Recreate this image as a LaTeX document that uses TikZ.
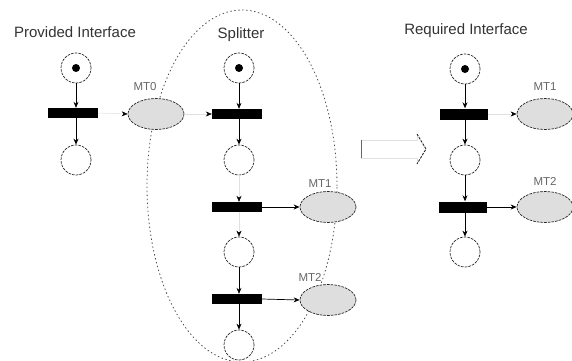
\documentclass[tikz,border=0pt]{standalone}
\usepackage{fontspec}
\setmainfont{Liberation Sans}
\usetikzlibrary{shapes.geometric,arrows.meta}
\begin{document}
\begin{tikzpicture}[x=1pt,y=-1pt,
  place/.style={circle,draw=black!85,line width=0.7pt,dash pattern=on 2.6pt off 1.1pt,minimum size=30pt,inner sep=0pt},
  trans/.style={rectangle,fill=black,draw=none,minimum width=50pt,minimum height=10pt,inner sep=0pt},
  msg/.style={ellipse,fill=black!13,draw=black!85,line width=0.7pt,dash pattern=on 2.6pt off 1.1pt,minimum width=56pt,minimum height=31pt,inner sep=0pt},
  token/.style={circle,fill=black,minimum size=8pt,inner sep=0pt},
  title/.style={font=\fontsize{15}{17}\selectfont,text=black!80,inner sep=0pt},
  mlabel/.style={font=\fontsize{11.5}{13}\selectfont,text=black!60,inner sep=0pt},
  arc/.style={line width=0.7pt,draw=black,-{Stealth[length=6pt,width=5pt,color=black]}},
  faint/.style={line width=0.5pt,draw=black!12,-{Stealth[length=6pt,width=5pt,color=black]}},
  group/.style={draw=black!70,line width=0.8pt,dash pattern=on 1.4pt off 2.6pt}
]
\useasboundingbox (0,0) rectangle (572,360);

% big dotted ellipse (splitter group)
\draw[group] (242,186) ellipse [x radius=95pt, y radius=176pt];

% titles
\node[title] (t1) at (75,32) {Provided Interface};
\node[title] (t2) at (241,35) {Splitter};
\node[title] (t3) at (466,31) {Required Interface};

% provided interface
\node[place] (lp1) at (76,68) {};
\node[token] (lk1) at (lp1) {};
\node[trans] (lb1) at (73,113) {};
\node[place] (lp2) at (76,160) {};
\node[msg] (mt0) at (156,114) {};
\node[mlabel] (lmt0) at (145,87) {MT0};

% splitter
\node[place] (sp1) at (239,68) {};
\node[token] (sk1) at (sp1) {};
\node[trans] (sb1) at (237,114) {};
\node[place] (sp2) at (239,160) {};
\node[trans] (sb2) at (237,207) {};
\node[place] (sp3) at (239,252) {};
\node[trans] (sb3) at (237,299) {};
\node[place] (sp4) at (239,345) {};
\node[msg] (smt1) at (328,207) {};
\node[msg] (smt2) at (328,300) {};
\node[mlabel] (lsmt1) at (320,184) {MT1};
\node[mlabel] (lsmt2) at (310,277) {MT2};

% required interface
\node[place] (rp1) at (465,69) {};
\node[token] (rk1) at (rp1) {};
\node[trans,minimum width=48pt,minimum height=11pt] (rb1) at (464,114) {};
\node[place] (rp2) at (465,160) {};
\node[trans,minimum width=48pt,minimum height=11pt] (rb2) at (463,207) {};
\node[place] (rp3) at (465,252) {};
\node[msg] (rmt1) at (545,114) {};
\node[msg] (rmt2) at (545,207) {};
\node[mlabel] (lrmt1) at (545,87) {MT1};
\node[mlabel] (lrmt2) at (545,181) {MT2};

% arcs: provided
\draw[arc] (lp1.south) -- (lp1.south |- lb1.north);
\draw[arc] (lp2.north |- lb1.south) -- (lp2.north);
\draw[faint] (lb1.east) -- (mt0.west);
\draw[faint] (mt0.east) -- (sb1.west);

% arcs: splitter
\draw[arc] (sp1.south) -- (sp1.south |- sb1.north);
\draw[arc] (sp2.north |- sb1.south) -- (sp2.north);
\draw[faint] (sp2.south) -- (sp2.south |- sb2.north);
\draw[faint] (sp3.north |- sb2.south) -- (sp3.north);
\draw[arc] (sp3.south) -- (sp3.south |- sb3.north);
\draw[arc] (sp4.north |- sb3.south) -- (sp4.north);
\draw[arc] (sb2.east) -- (smt1.west);
\draw[arc] (sb3.east) -- (smt2.west);

% arcs: required
\draw[arc] (rp1.south) -- (rp1.south |- rb1.north);
\draw[arc] (rp2.north |- rb1.south) -- (rp2.north);
\draw[arc] (rp2.south) -- (rp2.south |- rb2.north);
\draw[arc] (rp3.north |- rb2.south) -- (rp3.north);
\draw[faint] (rb1.east) -- (rmt1.west);
\draw[arc] (rb2.east) -- (rmt2.west);

% mapping block arrow
\coordinate (ma) at (361,140);
\coordinate (mb) at (361,158);
\draw[draw=black!12,line width=0.5pt] (ma) -- (417,140) -- (417,134);
\draw[draw=black!12,line width=0.5pt] (mb) -- (417,158) -- (417,164);
\draw[draw=black!60,line width=1pt] (ma) -- (mb);
\draw[draw=black!85,line width=0.9pt,dash pattern=on 2.5pt off 1.2pt] (417,134) -- (426,149) -- (417,164);
\end{tikzpicture}
\end{document}
